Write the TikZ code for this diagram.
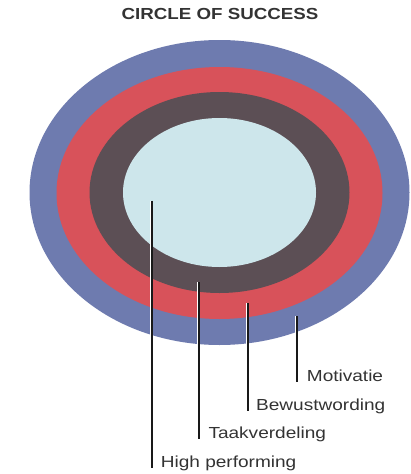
\documentclass[tikz,border=0pt]{standalone}
\usepackage{fontspec}
\setmainfont{Liberation Sans}
\definecolor{ringblue}{HTML}{6E7BAF}
\definecolor{ringred}{HTML}{D8525A}
\definecolor{ringdark}{HTML}{5C4F55}
\definecolor{ringlight}{HTML}{CDE6EB}
\definecolor{txt}{HTML}{333333}
\begin{document}
\begin{tikzpicture}[x=1pt,y=-1pt,
  lbl/.style={inner sep=0pt,anchor=base west,text=txt,font=\fontsize{16}{18}\selectfont},
  leaderw/.style={draw=white,line width=3.4pt},
  leader/.style={draw=black!90,line width=2pt}]
\useasboundingbox (0,0) rectangle (410,474);
\fill[ringblue] (219.5,192.5) ellipse [x radius=190, y radius=152.5];
\fill[ringred] (219.5,193) ellipse [x radius=163, y radius=126];
\fill[ringdark] (219.5,192.5) ellipse [x radius=130, y radius=100.5];
\fill[ringlight] (219.5,192.5) ellipse [x radius=96.5, y radius=74.5];
\node[inner sep=0pt,anchor=base,text=txt,font=\bfseries\fontsize{16}{18}\selectfont] (title) at (220,19) {\scalebox{1.17}[1]{CIRCLE OF SUCCESS}};
\node[lbl] (mot) at (306.7,381.7) {\scalebox{1.19}[1]{Motivatie}};
\node[lbl] (bew) at (256,410) {\scalebox{1.19}[1]{Bewustwording}};
\node[lbl] (taak) at (208.3,438.3) {\scalebox{1.19}[1]{Taakverdeling}};
\node[lbl] (high) at (160.7,467.3) {\scalebox{1.19}[1]{High performing}};
\coordinate (t1) at (151.5,200.7);
\coordinate (b1) at (151.5,468);
\coordinate (t2) at (198.5,281.7);
\coordinate (b2) at (198.5,439);
\coordinate (t3) at (247.5,302.7);
\coordinate (b3) at (247.5,410.5);
\coordinate (t4) at (296.5,315.7);
\coordinate (b4) at (296.5,382);
\foreach \i in {1,2,3,4}{
  \draw[leaderw] (t\i) -- (b\i);
  \draw[leader] (t\i) -- (b\i);
}
\end{tikzpicture}
\end{document}
